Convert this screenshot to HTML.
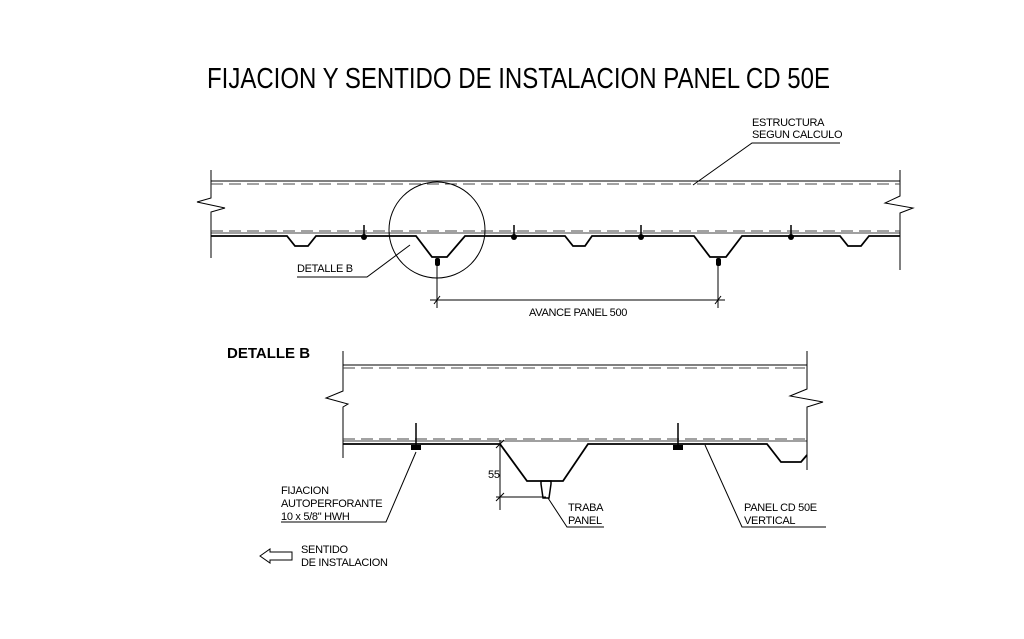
<!DOCTYPE html>
<html><head><meta charset="utf-8"><style>
html,body{margin:0;padding:0;background:#fff;width:1024px;height:639px;overflow:hidden}
svg text{font-family:"Liberation Sans",sans-serif;fill:#000}
.l{font-size:11px;letter-spacing:-0.3px}
</style></head><body>
<svg width="1024" height="639" viewBox="0 0 1024 639" xmlns="http://www.w3.org/2000/svg">
<text x="207" y="88" font-size="29" textLength="623" lengthAdjust="spacingAndGlyphs">FIJACION Y SENTIDO DE INSTALACION PANEL CD 50E</text>

<g stroke="#000" fill="none" stroke-width="1">
<!-- top view -->
<polyline points="211,170 211,198 197,202 225,208 211,212 211,258"/>
<polyline points="900,170 900,196 885,203 913,208 900,213 900,270"/>
<line x1="211" y1="181" x2="900" y2="181"/>
<line x1="211" y1="184" x2="900" y2="184" stroke-dasharray="12,6" stroke="#444"/>
<line x1="211" y1="231" x2="900" y2="231" stroke-dasharray="12,6" stroke="#444"/>
<line x1="211" y1="233" x2="900" y2="233" stroke-width="0.8"/>
<polyline stroke-width="1.8" points="211,236 287,236 295,246 308,246 316,236 416,236 432,257 447,257 465,236 565,236 573,246 585,246 592,236 694,236 710,257 726,257 742,236 840,236 848,246 861,246 869,236 900,236"/>
<circle cx="437" cy="230" r="48"/>
<g stroke-width="1.5">
<line x1="364" y1="225" x2="364" y2="236"/><line x1="514" y1="225" x2="514" y2="236"/>
<line x1="641" y1="225" x2="641" y2="236"/><line x1="791" y1="225" x2="791" y2="236"/>
</g>
<line x1="437" y1="258" x2="437" y2="308"/>
<line x1="718" y1="258" x2="718" y2="308"/>
<line x1="430" y1="300" x2="725" y2="300"/>
<line x1="434" y1="304" x2="440" y2="296"/><line x1="715" y1="304" x2="721" y2="296"/>
<polyline points="297,277 367,277 410,245"/>
<polyline points="840,143 752,143 693,185"/>
</g>
<g fill="#000">
<circle cx="364" cy="237" r="3"/><circle cx="514" cy="237" r="3"/><circle cx="641" cy="237" r="3"/><circle cx="791" cy="237" r="3"/>
<rect x="435" y="258" width="5" height="8" rx="2"/><rect x="716" y="258" width="5" height="8" rx="2"/>
</g>
<text class="l" x="297" y="272">DETALLE B</text>
<text class="l" x="529" y="316">AVANCE PANEL 500</text>
<text class="l" x="752" y="126">ESTRUCTURA</text>
<text class="l" x="752" y="138">SEGUN CALCULO</text>

<!-- detail B -->
<text x="227" y="358" font-size="15" font-weight="bold">DETALLE B</text>
<g stroke="#000" fill="none" stroke-width="1">
<polyline points="343,351 343,391 326,398 348,404 343,407 343,458"/>
<polyline points="807,351 807,389 790,396 823,402 807,407 807,470"/>
<line x1="343" y1="365" x2="807" y2="365"/>
<line x1="343" y1="368" x2="807" y2="368" stroke-dasharray="12,6" stroke="#444"/>
<line x1="343" y1="439" x2="807" y2="439" stroke-dasharray="12,6" stroke="#444"/>
<line x1="343" y1="441" x2="807" y2="441" stroke-width="0.8"/>
<polyline stroke-width="1.8" points="343,444 500,444 527,481 563,481 588,444 767,444 781,462 801,462 807,455"/>
<g stroke-width="1.5"><line x1="416" y1="423" x2="416" y2="447"/><line x1="678" y1="423" x2="678" y2="447"/></g>
<line x1="500" y1="440" x2="500" y2="510"/>
<line x1="496" y1="497" x2="546" y2="497"/>
<line x1="496" y1="448" x2="504" y2="440"/><line x1="496" y1="501" x2="504" y2="493"/>
<polyline points="281,522 386,522 416,452"/>
<polyline points="604,527 567,527 548,498"/>
<polyline points="826,527 742,527 705,445"/>
<polygon points="260,556 270,549 270,552 292,552 292,560 270,560 270,563"/>
</g>
<g fill="#000">
<rect x="411" y="445" width="10" height="5"/><rect x="673" y="445" width="10" height="5"/>
<path d="M541,481 h10 v3 l-2,14 h-6 l-2,-14 z" fill="none" stroke="#000" stroke-width="1.5"/>
</g>
<text class="l" x="488" y="478">55</text>
<text class="l" x="281" y="494">FIJACION</text>
<text class="l" x="281" y="507">AUTOPERFORANTE</text>
<text class="l" x="281" y="520">10 x 5/8" HWH</text>
<text class="l" x="568" y="511">TRABA</text>
<text class="l" x="568" y="524">PANEL</text>
<text class="l" x="744" y="511">PANEL CD 50E</text>
<text class="l" x="744" y="524">VERTICAL</text>
<text class="l" x="301" y="553">SENTIDO</text>
<text class="l" x="301" y="566">DE INSTALACION</text>
</svg>
</body></html>
